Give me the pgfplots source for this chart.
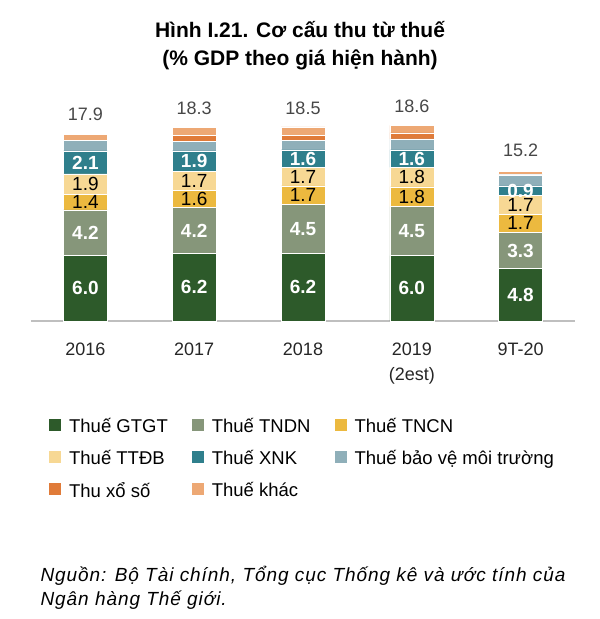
\documentclass[border=0pt]{standalone}
\usepackage{pgfplots}
\pgfplotsset{compat=1.18}
\usepackage{fontspec}
\setmainfont{Liberation Sans}
\definecolor{cGTGT}{HTML}{2D5A2A}
\definecolor{cTNDN}{HTML}{86967A}
\definecolor{cTNCN}{HTML}{ECB93F}
\definecolor{cTTDB}{HTML}{F7D894}
\definecolor{cXNK}{HTML}{2F7F8C}
\definecolor{cBVMT}{HTML}{8FAFB9}
\definecolor{cXS}{HTML}{E07B39}
\definecolor{cKHAC}{HTML}{EDA874}
\newcommand{\fs}[1]{\fontsize{#1}{#1}\selectfont}
\pgfplotsset{
  sq/.style={legend image code/.code={\fill[##1,draw=none] (0pt,-5pt) rectangle (12pt,7pt);}},
  seg/.style={fill=#1, draw=white, line width=0.5pt, sq},
  mid/.style 2 args={
    nodes near coords={\pgfmathprintnumber[fixed,fixed zerofill,precision=1]{\pgfplotspointmeta}},
    every node near coord/.append style={font=#2\fs{19}, text=#1, anchor=center, inner sep=0pt}
  },
}
\begin{document}
\begin{tikzpicture}
\path[use as bounding box] (0,0) rectangle (600pt,-619pt);
\node[font=\bfseries\fs{21}, anchor=base] at (300pt,-37pt) {Hình I.21. Cơ cấu thu từ thuế};
\node[font=\bfseries\fs{21}, anchor=base] at (300pt,-65pt) {(\% GDP theo giá hiện hành)};
\begin{axis}[
  at={(31pt,-321pt)}, anchor=south west,
  scale only axis, width=544pt, height=218pt,
  xmin=-0.5, xmax=4.5, ymin=0, ymax=20,
  enlargelimits=false,
  ybar stacked, bar width=44pt,
  hide y axis,
  axis x line*=bottom,
  x axis line style={-, draw=black!25, line width=1.5pt},
  xtick={0,1,2,3,4},
  xticklabels={2016,2017,2018,{2019\\(2est)},9T-20},
  xticklabel style={align=center, font=\fontsize{18}{25}\selectfont, text=black!85, yshift=-18pt},
  major tick length=0pt,
  /pgf/number format/assume math mode=true,
  legend columns=3,
  legend cell align=left,
  legend style={draw=none, at={(rel axis cs:0.033,-0.434)}, anchor=north west,
    font=\fs{18.5}, inner sep=0pt, row sep=12.5pt,
    /tikz/every odd column/.append style={column sep=6pt},
    /tikz/every even column/.append style={column sep=22pt}},
  clip=false,
]
\addplot+[seg=cGTGT, mid={white}{\bfseries}] coordinates {(0,6.0) (1,6.2) (2,6.2) (3,6.0) (4,4.8)};
\addlegendentry{Thuế GTGT}
\addplot+[seg=cTNDN, mid={white}{\bfseries}] coordinates {(0,4.2) (1,4.2) (2,4.5) (3,4.5) (4,3.3)};
\addlegendentry{Thuế TNDN}
\addplot+[seg=cTNCN, mid={black}{}] coordinates {(0,1.4) (1,1.6) (2,1.7) (3,1.8) (4,1.7)};
\addlegendentry{Thuế TNCN}
\addplot+[seg=cTTDB, mid={black}{}] coordinates {(0,1.9) (1,1.7) (2,1.7) (3,1.8) (4,1.7)};
\addlegendentry{Thuế TTĐB}
\addplot+[seg=cXNK, mid={white}{\bfseries}] coordinates {(0,2.1) (1,1.9) (2,1.6) (3,1.6) (4,0.9)};
\addlegendentry{Thuế XNK}
\addplot+[seg=cBVMT] coordinates {(0,1.0) (1,0.9) (2,0.9) (3,1.0) (4,1.0)};
\addlegendentry{Thuế bảo vệ môi trường}
\addplot+[seg=cXS] coordinates {(0,0.0) (1,0.55) (2,0.4) (3,0.55) (4,0.05)};
\addlegendentry{Thu xổ số}
\addplot+[seg=cKHAC, point meta=explicit symbolic, nodes near coords,
  every node near coord/.append style={font=\fs{18}, text=black!72, anchor=base, inner sep=0pt, yshift=16.5pt}]
  coordinates {(0,0.55)[17.9] (1,0.7)[18.3] (2,0.8)[18.5] (3,0.7)[18.6] (4,0.25)[15.2]};
\addlegendentry{Thuế khác}
\end{axis}
\node[font=\itshape\fs{19}\addfontfeatures{LetterSpace=5}, anchor=base west] at (37pt,-581pt)
  {Nguồn: Bộ Tài chính, Tổng cục Thống kê và ước tính của};
\node[font=\itshape\fs{19}\addfontfeatures{LetterSpace=5}, anchor=base west] at (37pt,-605pt)
  {Ngân hàng Thế giới.};
\end{tikzpicture}
\end{document}
